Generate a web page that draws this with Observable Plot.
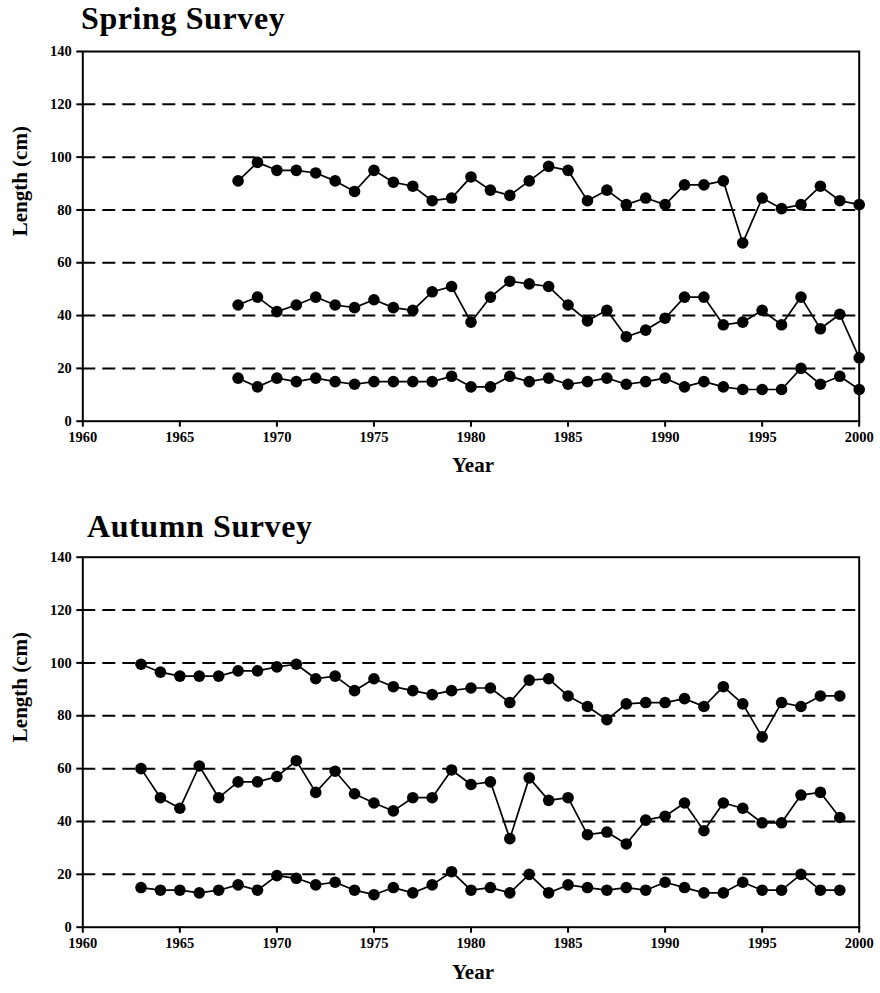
<!DOCTYPE html>
<html>
<head>
<meta charset="utf-8">
<script src="https://cdn.jsdelivr.net/npm/d3@7"></script>
<script src="https://cdn.jsdelivr.net/npm/@observablehq/plot@0.6"></script>
<style>
  body { margin: 0; background: #fff; }
  #root { position: relative; width: 880px; height: 993px; overflow: hidden; }
  .title { position: absolute; z-index: 5; font-family: "Liberation Serif", "Times New Roman", serif; font-weight: bold; font-size: 32px; letter-spacing: 0.6px; line-height: 0.8; color: #000; white-space: nowrap; }
  .panel { position: absolute; left: 0; z-index: 1; }
</style>
</head>
<body>
<div id="root">
  <div class="panel" id="spring" style="top:0px;"></div>
  <div class="panel" id="autumn" style="top:500px;"></div>
  <div class="title" style="left:81px; top:5.6px;">Spring Survey</div>
  <div class="title" style="left:87px; top:513.7px;">Autumn Survey</div>
</div>
<script>
// ---- Data ----
const xTicks = [1960, 1965, 1970, 1975, 1980, 1985, 1990, 1995, 2000];
const yTicks = [0, 20, 40, 60, 80, 100, 120, 140];
const gridValues = [20, 40, 60, 80, 100, 120];

const springYears = [1968,1969,1970,1971,1972,1973,1974,1975,1976,1977,1978,1979,1980,1981,1982,1983,1984,1985,1986,1987,1988,1989,1990,1991,1992,1993,1994,1995,1996,1997,1998,1999,2000];
const springLarge = [91,98,95,95,94,91,87,95,90.5,89,83.5,84.5,92.5,87.5,85.5,91,96.5,95,83.5,87.5,82,84.5,82,89.5,89.5,91,67.5,84.5,80.5,82,89,83.5,82];
const springMedium = [44,47,41.5,44,47,44,43,46,43,42,49,51,37.5,47,53,52,51,44,38,42,32,34.5,39,47,47,36.5,37.5,42,36.5,47,35,40.5,24];
const springSmall = [16.3,13,16.3,15,16.3,15,14,15,15,15,15,17,13,13,17,15,16.3,14,15,16.3,14,15,16.3,13,15,13,12,12,12,20,14,17,12];

const autumnYears = [1963,1964,1965,1966,1967,1968,1969,1970,1971,1972,1973,1974,1975,1976,1977,1978,1979,1980,1981,1982,1983,1984,1985,1986,1987,1988,1989,1990,1991,1992,1993,1994,1995,1996,1997,1998,1999];
const autumnLarge = [99.5,96.5,95,95,95,97,97,98.5,99.5,94,95,89.5,94,91,89.5,88,89.5,90.5,90.5,85,93.5,94,87.5,83.5,78.5,84.5,85,85,86.5,83.5,91,84.5,72,85,83.5,87.5,87.5];
const autumnMedium = [60,49,45,61,49,55,55,57,63,51,59,50.5,47,44,49,49,59.5,54,55,33.5,56.5,48,49,35,36,31.5,40.5,42,47,36.5,47,45,39.5,39.5,50,51,41.5];
const autumnSmall = [15,14,14,13,14,16,14,19.5,18.5,16,17,14,12.3,15,13,16,21,14,15,13,20,13,16,15,14,15,14,17,15,13,13,17,14,14,20,14,14];

function toRows(years, seriesList) {
  const rows = [];
  seriesList.forEach(([name, vals]) => {
    years.forEach((yr, i) => rows.push({series: name, year: yr, value: vals[i]}));
  });
  return rows;
}

const FONT = "'Liberation Serif', 'Times New Roman', serif";

function panel(rows, opts) {
  return Plot.plot({
    width: 880,
    height: opts.height,
    marginLeft: 82.3,
    marginRight: 21.3,
    marginTop: opts.marginTop,
    marginBottom: opts.marginBottom,
    style: {fontFamily: FONT, fontSize: "14px", fontWeight: "bold", color: "#000", background: "transparent", overflow: "visible"},
    x: {domain: [1960, 2000]},
    y: {domain: [0, 140]},
    marks: [
      Plot.ruleY(gridValues, {stroke: "#000", strokeWidth: 2, strokeDasharray: "13,7"}),
      Plot.frame({stroke: "#000", strokeWidth: 2}),
      Plot.axisX({ticks: xTicks, tickFormat: d => String(d), tickSize: 6, tickPadding: 5, strokeWidth: 2, label: null, fontWeight: "bold", fontSize: 14.5, fontFamily: FONT}),
      Plot.axisY({ticks: yTicks, tickFormat: d => String(d), tickSize: 6, tickPadding: 5, strokeWidth: 2, label: null, fontWeight: "bold", fontSize: 14.5, fontFamily: FONT}),
      Plot.line(rows, {x: "year", y: "value", z: "series", stroke: "#000", strokeWidth: 1.7}),
      Plot.dot(rows, {x: "year", y: "value", r: 5.8, fill: "#000", stroke: "none"}),
      Plot.text(["Year"], {text: d => d, frameAnchor: "bottom", dy: opts.yearDy, dx: 2, fontSize: 21, fontWeight: "bold", fontFamily: FONT}),
      Plot.text(["Length (cm)"], {text: d => d, frameAnchor: "left", dx: -62.5, rotate: -90, fontSize: 21, fontWeight: "bold", fontFamily: FONT})
    ]
  });
}

const springRows = toRows(springYears, [["large", springLarge], ["medium", springMedium], ["small", springSmall]]);
const autumnRows = toRows(autumnYears, [["large", autumnLarge], ["medium", autumnMedium], ["small", autumnSmall]]);

document.getElementById("spring").appendChild(panel(springRows, {height: 500, marginTop: 51, marginBottom: 79.3, yearDy: 51}));
document.getElementById("autumn").appendChild(panel(autumnRows, {height: 493, marginTop: 56.7, marginBottom: 66.3, yearDy: 52}));
</script>
</body>
</html>
